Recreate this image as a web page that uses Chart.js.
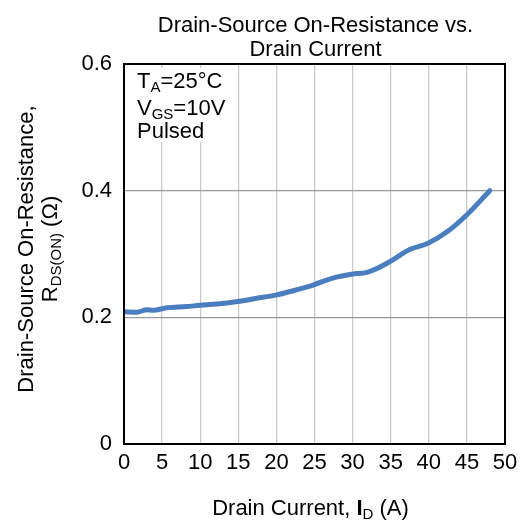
<!DOCTYPE html>
<html>
<head>
<meta charset="utf-8">
<script src="https://cdn.jsdelivr.net/npm/chart.js@4"></script>
<style>
  body { margin: 0; background: #fff; }
  #wrap { width: 526px; height: 522px; position: relative; }
</style>
</head>
<body>
<div id="wrap"><canvas id="chart"></canvas></div>
<script>
// data
const currents = [0, 1.7, 3, 3.8, 5.6, 8.2, 10, 12.2, 14.9, 17.4, 19.9, 22.2, 24.8, 27.4, 29.9, 31.9, 33.2, 34.9, 37.5, 39.9, 42.4, 45, 48];
const resistances = [0.209, 0.208, 0.212, 0.211, 0.215, 0.217, 0.219, 0.221, 0.225, 0.230, 0.235, 0.242, 0.251, 0.262, 0.268, 0.271, 0.277, 0.288, 0.307, 0.317, 0.335, 0.362, 0.400];
const xTicks = [0, 5, 10, 15, 20, 25, 30, 35, 40, 45, 50];
const yTicks = [0, 0.2, 0.4, 0.6];

const FONT = "'Liberation Sans', Arial, sans-serif";
const SIZE = 22;
const SUB = 15;

// draw text made of runs like {t, sub, bold}
function setFont(ctx, r) {
  ctx.font = (r.bold ? "bold " : "") + (r.sub ? SUB : SIZE) + "px " + FONT;
}
function runWidth(ctx, runs) {
  let w = 0;
  runs.forEach(r => { setFont(ctx, r); w += ctx.measureText(r.t).width; });
  return w;
}
function drawRuns(ctx, runs, x, y, align) {
  let cx = align === "center" ? x - runWidth(ctx, runs) / 2 : x;
  ctx.textAlign = "left";
  ctx.textBaseline = "alphabetic";
  runs.forEach(r => {
    setFont(ctx, r);
    ctx.fillText(r.t, cx, r.sub ? y + 4 : y);
    cx += ctx.measureText(r.t).width;
  });
}

const decor = {
  id: "decor",
  afterDraw(chart) {
    const ctx = chart.ctx;
    const a = chart.chartArea;
    ctx.save();

    // white box behind the conditions
    ctx.fillStyle = "#fff";
    ctx.fillRect(a.left + 3, a.top + 4, 100, 74);
    ctx.fillStyle = "#000";
    drawRuns(ctx, [{t: "T"}, {t: "A", sub: true}, {t: "=25°C"}], a.left + 13, a.top + 24);
    drawRuns(ctx, [{t: "V"}, {t: "GS", sub: true}, {t: "=10V"}], a.left + 13, a.top + 51);
    drawRuns(ctx, [{t: "Pulsed"}], a.left + 13, a.top + 74);

    // frame
    ctx.strokeStyle = "#000";
    ctx.lineWidth = 2;
    ctx.strokeRect(a.left, a.top, a.right - a.left, a.bottom - a.top);

    // title
    const mid = (a.left + a.right) / 2;
    drawRuns(ctx, [{t: "Drain-Source On-Resistance vs."}], mid + 1, 32, "center");
    drawRuns(ctx, [{t: "Drain Current"}], mid + 1, 56, "center");

    // x axis title
    drawRuns(ctx, [{t: "Drain Current, "}, {t: "I", bold: true}, {t: "D", sub: true}, {t: " (A)"}], mid - 4, 515, "center");

    // y axis title
    const cy = (a.top + a.bottom) / 2 - 5;
    ctx.translate(33, cy);
    ctx.rotate(-Math.PI / 2);
    drawRuns(ctx, [{t: "Drain-Source On-Resistance,"}], 0, 0, "center");
    drawRuns(ctx, [{t: "R"}, {t: "DS(ON)", sub: true}, {t: " (Ω)"}], 0, 24, "center");
    ctx.restore();
  }
};

new Chart(document.getElementById("chart"), {
  type: "scatter",
  data: {
    datasets: [{
      data: currents.map((c, i) => ({x: c, y: resistances[i]})),
      showLine: true,
      borderColor: "#4a7ebf",
      borderWidth: 5,
      pointRadius: 0,
      cubicInterpolationMode: "monotone",
      borderCapStyle: "round"
    }]
  },
  options: {
    responsive: true,
    maintainAspectRatio: false,
    animation: false,
    layout: { padding: { top: 64, right: 21, left: 0, bottom: 0 } },
    plugins: { legend: { display: false }, tooltip: { enabled: false } },
    scales: {
      x: {
        type: "linear",
        min: 0, max: 50,
        afterBuildTicks: s => { s.ticks = xTicks.map(v => ({value: v})); },
        afterFit: s => { s.height = 78; },
        grid: { color: "#cccccc", lineWidth: 1.3, drawTicks: false },
        border: { display: false },
        ticks: { color: "#000", padding: 6, maxRotation: 0, autoSkip: false, font: { family: FONT, size: SIZE } }
      },
      y: {
        min: 0, max: 0.6,
        afterBuildTicks: s => { s.ticks = yTicks.map(v => ({value: v})); },
        afterFit: s => { s.width = 124; },
        grid: { color: "#9a9a9a", lineWidth: 1.3, drawTicks: false },
        border: { display: false },
        ticks: { color: "#000", padding: 12, callback: v => String(+v.toFixed(1)), font: { family: FONT, size: SIZE } }
      }
    }
  },
  plugins: [decor]
});
</script>
</body>
</html>
